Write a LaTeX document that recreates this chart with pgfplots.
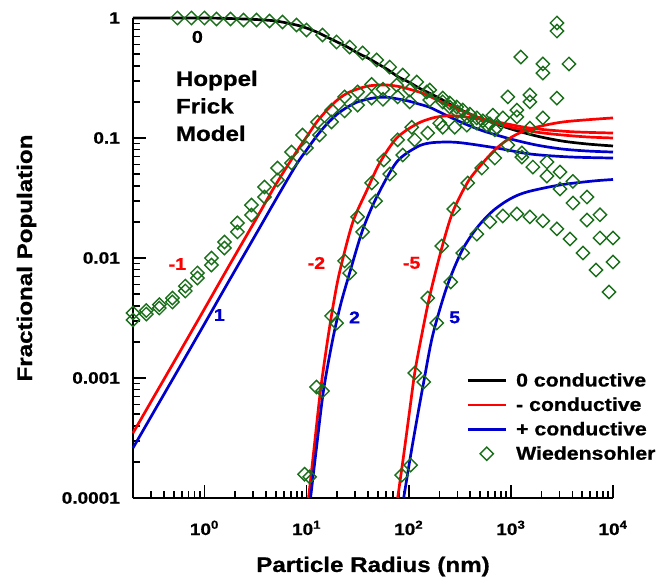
\documentclass[border=0pt]{standalone}
\usepackage{fontspec}
\setmainfont{Liberation Sans}[FakeStretch=1.15, BoldFeatures={FakeBold=0.8}]
\usepackage{pgfplots}
\pgfplotsset{compat=1.18}
\definecolor{modelred}{RGB}{255,0,0}
\definecolor{modelblue}{RGB}{0,0,205}
\definecolor{wgreen}{RGB}{25,110,25}
\pgfplotsset{
  legline/.style={legend image code/.code={\draw[##1] (0pt,0pt) -- (38pt,0pt);}},
  legmark/.style={legend image code/.code={\draw[##1] plot[only marks] coordinates {(19pt,0pt)};}},
  curve/.style={line width=2.7pt, smooth},
}

% Hoppel-Frick model curves
\pgfplotstableread{
x y
0.2 1.0
1 1.0
1.778 0.990
3.162 0.972
5.012 0.944
7.943 0.874
10 0.825
12.59 0.764
15.85 0.694
19.95 0.631
25.12 0.573
31.62 0.511
39.81 0.464
50.12 0.414
63.10 0.369
79.43 0.322
100 0.293
125.9 0.261
158.5 0.237
199.5 0.215
251.2 0.192
316.2 0.174
398.1 0.158
562.3 0.141
1000 0.119
1778 0.104
3162 0.0944
5623 0.0891
10000 0.0858
}\zero
\pgfplotstableread{
x y
0.2 3.48e-4
0.3162 6.85e-4
0.5623 1.60e-3
1 3.76e-3
1.778 8.87e-3
3.162 0.0207
5.012 0.0411
7.943 0.0765
10 0.102
12.59 0.136
15.85 0.171
19.95 0.207
25.12 0.237
31.62 0.256
39.81 0.271
50.12 0.276
63.10 0.276
79.43 0.269
100 0.256
125.9 0.242
158.5 0.224
199.5 0.203
251.2 0.187
316.2 0.171
398.1 0.158
562.3 0.141
1000 0.123
1778 0.112
3162 0.106
5623 0.102
10000 0.100
}\neg
\pgfplotstableread{
x y
0.2 2.61e-4
0.3162 5.14e-4
0.5623 1.20e-3
1 2.82e-3
1.778 6.65e-3
3.162 0.01555
5.012 0.0308
7.943 0.0600
10 0.0794
12.59 0.104
15.85 0.131
19.95 0.158
25.12 0.181
31.62 0.200
39.81 0.211
50.12 0.218
63.10 0.218
79.43 0.211
100 0.203
125.9 0.192
158.5 0.181
199.5 0.165
251.2 0.150
316.2 0.137
398.1 0.126
562.3 0.113
1000 0.098
1778 0.0874
3162 0.0810
5623 0.0779
10000 0.0764
}\pos
\pgfplotstableread{
x y
10.46 1e-4
11.97 2.82e-4
13.71 7.94e-4
16.07 2.07e-3
18.4 4.22e-3
21.07 7.64e-3
28.2 0.0196
38.7 0.0362
52.0 0.0619
76.3 0.100
120 0.131
172 0.147
236 0.153
338 0.151
729 0.136
1535 0.121
3788 0.113
10000 0.110
}\negtwo
\pgfplotstableread{
x y
10.94 1e-4
12.5 2.61e-4
14.68 7.94e-4
17.98 2.07e-3
21.5 4.06e-3
26.4 7.50e-3
35.4 0.0171
48.6 0.0322
76.3 0.0631
120 0.0841
161 0.0909
236 0.0926
338 0.0909
729 0.0825
1535 0.0736
3788 0.0695
10000 0.0681
}\postwo
\pgfplotstableread{
x y
78.0 1e-4
89.3 2.28e-4
102.3 5.41e-4
114.5 1.10e-3
131.2 2.07e-3
160.6 4.82e-3
210.7 0.0121
270 0.0242
379 0.0430
520 0.0607
729 0.0825
1023 0.102
1535 0.119
3236 0.136
10000 0.147
}\negfive
\pgfplotstableread{
x y
89.3 1e-4
104.6 2.28e-4
122.5 4.92e-4
140.3 9.26e-4
172 2.28e-3
236 5.73e-3
331 0.01143
464 0.01778
667 0.0247
977 0.0310
1435 0.0355
3020 0.0406
6368 0.0438
10000 0.0451
}\posfive

% Wiedensohler points
\pgfplotstableread{
x y
0.544 1.0
0.746 1.0
1.0 1.0
1.311 0.981
1.798 0.981
2.412 0.962
3.234 0.962
4.339 0.944
5.818 0.926
7.980 0.874
10.0 0.794
14.35 0.722
19.69 0.631
26.41 0.573
35.40 0.511
48.57 0.447
65.13 0.390
87.35 0.335
119.8 0.293
160.7 0.251
215.4 0.215
252.4 0.196
295.5 0.181
338.4 0.171
396.3 0.158
464.2 0.147
531.6 0.139
622.6 0.131
729.0 0.123
0.2 0.00348
0.2 0.00304
0.270 0.00365
0.270 0.00341
0.362 0.00409
0.362 0.00383
0.486 0.00464
0.486 0.00430
0.651 0.00584
0.651 0.00531
0.854 0.00750
0.854 0.00681
1.171 0.0100
1.171 0.00874
1.571 0.0136
1.571 0.0121
2.106 0.0196
2.106 0.0165
2.889 0.0276
2.889 0.0228
3.875 0.0391
3.875 0.0322
5.197 0.0562
5.197 0.0447
7.128 0.0764
7.128 0.0619
9.138 0.106
10.0 0.0825
12.82 0.136
13.41 0.106
17.59 0.171
17.59 0.136
23.58 0.220
23.58 0.168
31.62 0.242
31.62 0.188
43.38 0.280
43.38 0.215
56.00 0.255
56.00 0.210
76.28 0.276
78.03 0.220
102.3 0.251
102.3 0.200
150.2 0.242
160.7 0.207
215.4 0.200
252.4 0.181
300.0 0.165
370.4 0.150
9.559 0.000158
10.70 0.000150
12.53 0.000841
14.35 0.000779
17.59 0.00329
19.69 0.00287
23.58 0.00945
26.41 0.00750
31.62 0.0220
35.40 0.0165
43.38 0.0422
47.48 0.0298
56.90 0.0656
65.13 0.0501
78.03 0.0965
87.35 0.0722
107.0 0.123
114.5 0.0965
153.6 0.110
201.4 0.133
215.4 0.123
282.5 0.123
370.4 0.128
464.2 0.133
581.8 0.128
696.8 0.117
85.39 0.000155
114.5 0.00110
153.6 0.00464
210.7 0.0126
276.2 0.0256
378.8 0.0422
519.7 0.0562
696.8 0.0681
934.5 0.0874
1536 0.121
104.6 0.000188
140.3 0.000926
188.2 0.00287
258.1 0.00631
338.4 0.0110
464.2 0.0158
622.6 0.0200
835.0 0.0224
1145 0.0233
1536 0.0220
2059 0.0204
2825 0.0175
3788 0.0144
5081 0.0110
6813 0.00794
9138 0.00521
2825 0.909
2825 0.779
1253 0.473
2059 0.414
2059 0.348
3704 0.414
934.5 0.220
1536 0.229
1536 0.200
2825 0.215
1145 0.171
1145 0.150
2059 0.147
666.3 0.155
835.0 0.147
1282 0.0750
1282 0.0694
1643 0.0573
2254 0.0631
2254 0.0482
3023 0.0521
3023 0.0376
4054 0.0435
4054 0.0287
5561 0.0322
5561 0.0207
7456 0.0229
7456 0.0147
10000 0.0147
10000 0.00926
}\wied

\begin{document}
\bfseries
\begin{tikzpicture}
\begin{axis}[
  xmode=log, ymode=log,
  scale only axis, width=480pt, height=480pt,
  xmin=0.2, xmax=10000, ymin=1e-4, ymax=1,
  clip=false,
  axis x line=bottom, axis y line=left,
  axis line style={-, line width=2.4pt},
  tick align=inside,
  major tick length=13pt, minor tick length=7pt,
  every tick/.style={black, line width=1.7pt},
  xtick={1,10,100,1000,10000},
  xticklabels={10\textsuperscript{0},10\textsuperscript{1},10\textsuperscript{2},10\textsuperscript{3},10\textsuperscript{4}},
  minor xtick={0.3,0.4,0.5,0.6,0.7,0.8,0.9,2,3,4,5,6,7,8,9,20,30,40,50,60,70,80,90,200,300,400,500,600,700,800,900,2000,3000,4000,5000,6000,7000,8000,9000},
  ytick={0.0001,0.001,0.01,0.1,1},
  yticklabels={0.0001,0.001,0.01,0.1,1},
  minor ytick={2e-4,3e-4,4e-4,5e-4,6e-4,7e-4,8e-4,9e-4,2e-3,3e-3,4e-3,5e-3,6e-3,7e-3,8e-3,9e-3,0.02,0.03,0.04,0.05,0.06,0.07,0.08,0.09,0.2,0.3,0.4,0.5,0.6,0.7,0.8,0.9},
  xticklabel style={font=\fontsize{16.5}{19}\selectfont, anchor=base, inner sep=0pt, yshift=-37pt},
  yticklabel style={font=\fontsize{16.5}{19}\selectfont, anchor=east, inner sep=0pt, xshift=-13pt},
  xlabel={Particle Radius (nm)},
  ylabel={Fractional Population},
  xlabel style={font=\fontsize{21}{25}\selectfont, at={(axis description cs:0.5,-0.154)}, anchor=base},
  ylabel style={font=\fontsize{21}{25}\selectfont, at={(axis description cs:-0.2104,0.5)}, anchor=base},
  legend style={draw=none, fill=none, font=\fontsize{18.5}{21}\selectfont,
    at={(rel axis cs:0.688,0.269)}, anchor=north west, row sep=5.5pt,
    /tikz/every odd column/.append style={column sep=7pt}},
  legend cell align=left,
]
\addplot[curve, black, legline] table {\zero};
\addlegendentry{0 conductive}
\addplot[curve, modelred, legline] table {\neg};
\addlegendentry{- conductive}
\addplot[curve, modelblue, legline] table {\pos};
\addlegendentry{+ conductive}
\addplot[only marks, mark=square, mark size=4.7pt,
  mark options={rotate=45, draw=wgreen, line width=1.4pt, fill=none}, legmark] table {\wied};
\addlegendentry{Wiedensohler}
\addplot[curve, modelred, forget plot] table {\negtwo};
\addplot[curve, modelblue, forget plot] table {\postwo};
\addplot[curve, modelred, forget plot] table {\negfive};
\addplot[curve, modelblue, forget plot] table {\posfive};

\node[font=\fontsize{17}{20}\selectfont] at (axis cs:0.854,0.695) {0};
\node[anchor=west, align=left, font=\fontsize{21}{27.5}\selectfont] at (axis cs:0.486,0.185) {Hoppel\\Frick\\Model};
\node[font=\fontsize{17}{20}\selectfont, text=modelred] at (axis cs:0.544,8.9e-3) {-1};
\node[font=\fontsize{17}{20}\selectfont, text=modelblue] at (axis cs:1.40,3.35e-3) {1};
\node[font=\fontsize{17}{20}\selectfont, text=modelred] at (axis cs:12.5,9.1e-3) {-2};
\node[font=\fontsize{17}{20}\selectfont, text=modelblue] at (axis cs:29.5,3.2e-3) {2};
\node[font=\fontsize{17}{20}\selectfont, text=modelred] at (axis cs:107,9.1e-3) {-5};
\node[font=\fontsize{17}{20}\selectfont, text=modelblue] at (axis cs:282,3.2e-3) {5};
\end{axis}
\pgfresetboundingbox
\path (-133pt,-85pt) rectangle (528pt,498pt);
\end{tikzpicture}
\end{document}
